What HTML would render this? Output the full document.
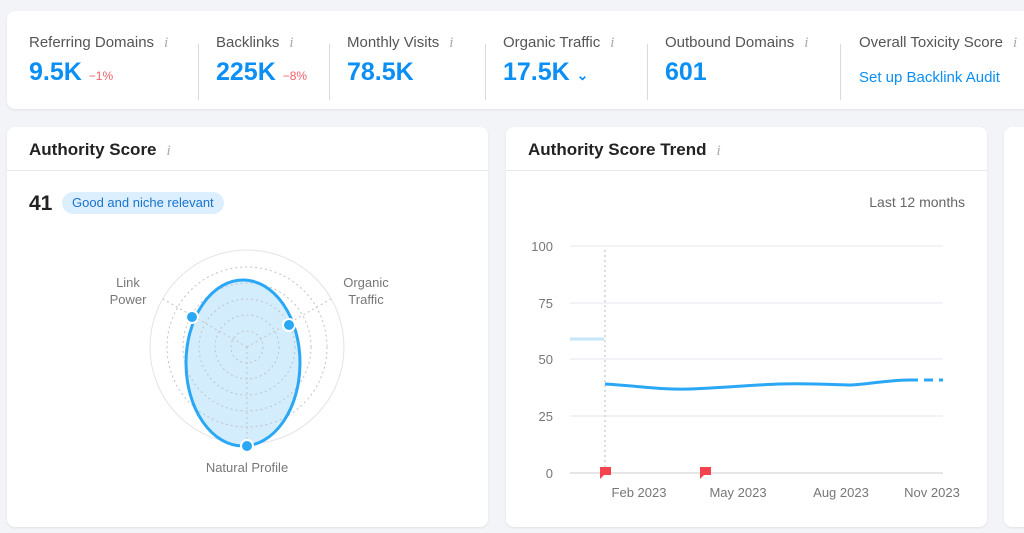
<!DOCTYPE html>
<html><head><meta charset="utf-8"><style>
*{box-sizing:border-box;margin:0;padding:0}
body{width:1024px;height:533px;background:#f3f4f8;font-family:"Liberation Sans",sans-serif;position:relative;overflow:hidden;color:#333}
.card{position:absolute;background:#fff;border-radius:8px;box-shadow:0 1px 2px rgba(0,0,0,.08)}
.lab{position:absolute;font-size:15px;color:#555;white-space:nowrap}
.val{position:absolute;font-size:25px;font-weight:bold;color:#0b8ff5;white-space:nowrap}
.dl{font-size:12px;color:#f0616a;font-weight:normal}
.sep{position:absolute;top:33px;width:1px;height:56px;background:#d9dadf}
.ic{color:#aaa;font-family:"Liberation Serif",serif;font-style:italic;font-size:15px;margin-left:10px}
.h{position:absolute;font-size:17px;font-weight:bold;color:#222;white-space:nowrap}
.hr{position:absolute;left:0;right:0;top:43px;height:1px;background:#e6e7ec}
.t{font-family:"Liberation Sans",sans-serif;font-size:13px;fill:#777}
</style></head><body>
<div class="card" style="left:7px;top:11px;width:1030px;height:98px">
 <div class="lab" style="left:22px;top:23px">Referring Domains<span class="ic">i</span></div>
 <div class="val" style="left:22px;top:47px">9.5K <span class="dl">−1%</span></div>
 <div class="sep" style="left:191px"></div>
 <div class="lab" style="left:209px;top:23px">Backlinks<span class="ic">i</span></div>
 <div class="val" style="left:209px;top:47px">225K <span class="dl">−8%</span></div>
 <div class="sep" style="left:322px"></div>
 <div class="lab" style="left:340px;top:23px">Monthly Visits<span class="ic">i</span></div>
 <div class="val" style="left:340px;top:47px">78.5K</div>
 <div class="sep" style="left:478px"></div>
 <div class="lab" style="left:496px;top:23px">Organic Traffic<span class="ic">i</span></div>
 <div class="val" style="left:496px;top:47px">17.5K <span style="font-size:14px">⌄</span></div>
 <div class="sep" style="left:640px"></div>
 <div class="lab" style="left:658px;top:23px">Outbound Domains<span class="ic">i</span></div>
 <div class="val" style="left:658px;top:47px">601</div>
 <div class="sep" style="left:833px"></div>
 <div class="lab" style="left:852px;top:23px">Overall Toxicity Score<span class="ic">i</span></div>
 <div class="lab" style="left:852px;top:58px;color:#0b8ff5">Set up Backlink Audit</div>
</div>

<div class="card" style="left:7px;top:127px;width:481px;height:400px">
 <div class="h" style="left:22px;top:13px">Authority Score<span class="ic" style="font-weight:normal">i</span></div>
 <div class="hr"></div>
 <div class="h" style="left:22px;top:65px;font-size:21px">41</div>
 <div style="position:absolute;left:55px;top:65px;height:22px;padding:0 10px;border-radius:11px;background:#dcefff;color:#1a74c9;font-size:13px;line-height:22px">Good and niche relevant</div>
</div>

<div class="card" style="left:506px;top:127px;width:481px;height:400px">
 <div class="h" style="left:22px;top:13px">Authority Score Trend<span class="ic" style="font-weight:normal">i</span></div>
 <div class="hr"></div>
 <div class="lab" style="right:22px;top:67px;color:#666;font-size:14px">Last 12 months</div>
</div>
<div class="card" style="left:1004px;top:127px;width:40px;height:400px"></div>

<svg width="1024" height="533" style="position:absolute;left:0;top:0">
 <circle cx="247" cy="347" r="97" fill="none" stroke="#e2e3e8"/>
 <ellipse cx="243" cy="363" rx="57" ry="83" fill="#d4edfd"/>
 <g fill="none" stroke="#bfc3c8" stroke-dasharray="2 3">
  <circle cx="247" cy="347" r="16"/><circle cx="247" cy="347" r="32"/><circle cx="247" cy="347" r="48"/><circle cx="247" cy="347" r="64"/><circle cx="247" cy="347" r="80"/>
  <line x1="247" y1="347" x2="247" y2="444"/><line x1="247" y1="347" x2="163" y2="299"/><line x1="247" y1="347" x2="331" y2="299"/>
 </g>
 <ellipse cx="243" cy="363" rx="57" ry="83" fill="none" stroke="#2aa7f5" stroke-width="3"/>
 <g fill="#2aa7f5" stroke="#fff" stroke-width="2"><circle cx="192" cy="317" r="6"/><circle cx="289" cy="325" r="6"/><circle cx="247" cy="446" r="6"/></g>
 <text class="t" x="128" y="287" text-anchor="middle">Link</text><text class="t" x="128" y="304" text-anchor="middle">Power</text>
 <text class="t" x="366" y="287" text-anchor="middle">Organic</text><text class="t" x="366" y="304" text-anchor="middle">Traffic</text>
 <text class="t" x="247" y="472" text-anchor="middle">Natural Profile</text>

 <g stroke="#e6e7ec"><line x1="570" y1="246" x2="943" y2="246"/><line x1="570" y1="303" x2="943" y2="303"/><line x1="570" y1="359" x2="943" y2="359"/><line x1="570" y1="416" x2="943" y2="416"/></g>
 <line x1="570" y1="473" x2="943" y2="473" stroke="#ccc"/>
 <g class="t" text-anchor="end"><text x="553" y="251">100</text><text x="553" y="308">75</text><text x="553" y="364">50</text><text x="553" y="421">25</text><text x="553" y="478">0</text></g>
 <line x1="605" y1="250" x2="605" y2="473" stroke="#bbb" stroke-dasharray="2 3"/>
 <line x1="570" y1="339" x2="604" y2="339" stroke="#c6e6fb" stroke-width="3"/>
 <path d="M605 384 C640 386,660 390,690 389 S750 385,780 384 S840 385,850 385 S890 380,909 380" fill="none" stroke="#2aa7f5" stroke-width="3"/>
 <line x1="909" y1="380" x2="943" y2="380" stroke="#2aa7f5" stroke-width="3" stroke-dasharray="9 6"/>
 <path d="M600 467h11v8h-7l-4 4z" fill="#f5424f"/><path d="M700 467h11v8h-7l-4 4z" fill="#f5424f"/>
 <g class="t" text-anchor="middle"><text x="639" y="497">Feb 2023</text><text x="738" y="497">May 2023</text><text x="841" y="497">Aug 2023</text><text x="932" y="497">Nov 2023</text></g>
</svg>
</body></html>
